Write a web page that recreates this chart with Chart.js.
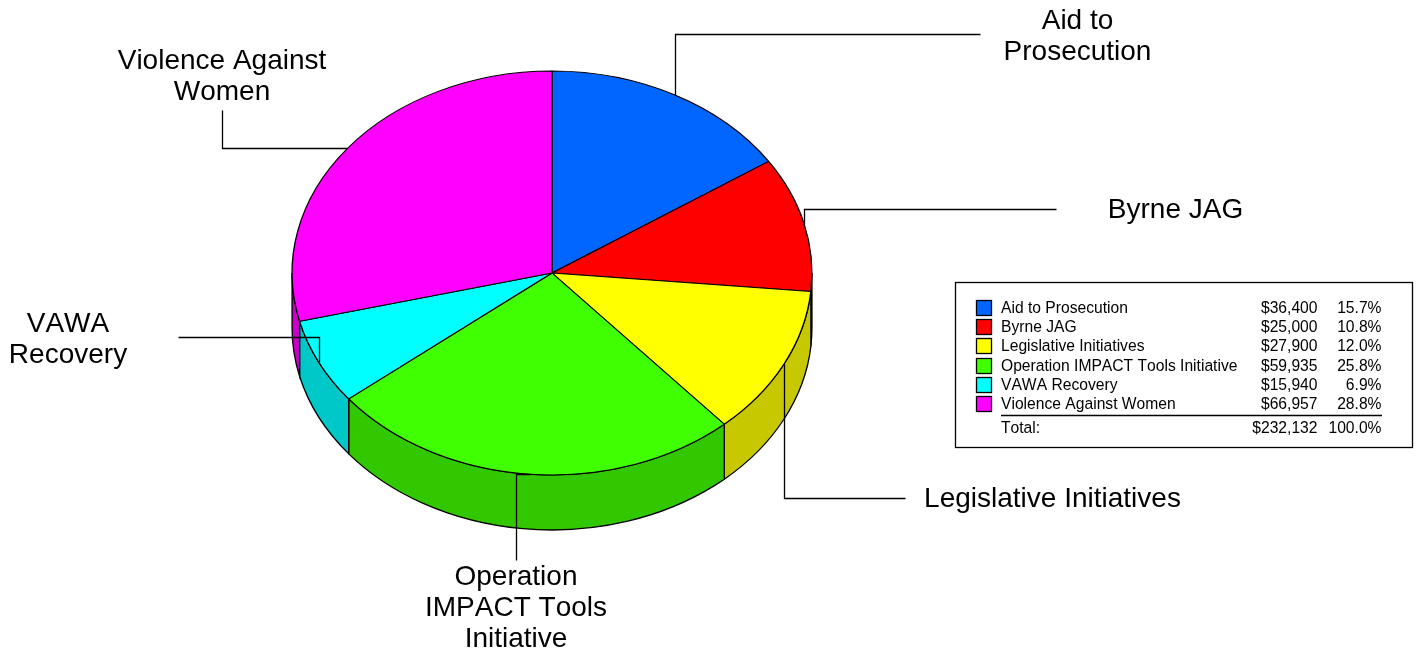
<!DOCTYPE html>
<html>
<head>
<meta charset="utf-8">
<title>Grant funding by program</title>
<script src="https://cdn.jsdelivr.net/npm/chart.js@4/dist/chart.umd.min.js"></script>
<style>
    body { margin: 0; background: #fff; }
    canvas { display: block; }
</style>
</head>
<body>
<canvas id="pieChart" width="1417" height="651"></canvas>
<script>
// Chart data
const categories = ['Aid to Prosecution', 'Byrne JAG', 'Legislative Initiatives', 'Operation IMPACT Tools Initiative', 'VAWA Recovery', 'Violence Against Women'];
const amounts = [36400, 25000, 27900, 59935, 15940, 66957];
const amountLabels = ['$36,400', '$25,000', '$27,900', '$59,935', '$15,940', '$66,957'];
const percentLabels = ['15.7%', '10.8%', '12.0%', '25.8%', '6.9%', '28.8%'];
const totalLabels = ['Total:', '$232,132', '100.0%'];

// Colours of the slices and of their rims
const topColors = ['#0066FF', '#FF0000', '#FFFF00', '#40FF00', '#00FFFF', '#FF00FF'];
const sideColors = ['#0050C8', '#C80000', '#C8C800', '#32C800', '#00C8C8', '#C800C8'];

// Tilt of the pie
const squash = 202 / 260;
const rimDepth = 55;
const strokeWidth = 1.3;

// Callout label lines, with where each one sits on the page
const calloutLines = [['Aid to', 'Prosecution'], ['Byrne JAG'], ['Legislative Initiatives'], ['Operation', 'IMPACT Tools', 'Initiative'], ['VAWA', 'Recovery'], ['Violence Against', 'Women']];
const calloutText = [[1077.5, 21], [1175.5, 210], [1052.5, 499], [516, 577], [68, 324], [222, 61]];
// Leader elbows, starting from the slice anchor
const calloutPaths = [
    a => [[a.x, 34], [980, 34]],
    a => [[a.x, 209], [1056, 209]],
    a => [[a.x, 498], [905, 498]],
    a => [[516, a.y], [516, 560]],
    a => [[a.x, 337], [178, 337]],
    a => [[222, a.y], [222, 110]]
];

const labelFont = '28px "Liberation Sans", Arial, sans-serif';
const legendFont = '15.65px "Liberation Sans", Arial, sans-serif';

function sliceGeometry(chart) {
    return chart.getDatasetMeta(0).data.map(arc => arc.getProps(['x', 'y', 'startAngle', 'endAngle', 'outerRadius']));
}

// Rim below the front half of the pie, then squash the drawing of the slices
const tiltPlugin = {
    id: 'tilt',
    beforeDatasetsDraw(chart) {
        const ctx = chart.ctx;
        ctx.save();
        sliceGeometry(chart).forEach((s, i) => {
            const rx = s.outerRadius, ry = s.outerRadius * squash;
            const from = Math.max(s.startAngle, 0);
            const to = Math.min(s.endAngle, Math.PI);
            if (to <= from) return;
            ctx.beginPath();
            ctx.ellipse(s.x, s.y, rx, ry, 0, from, to);
            ctx.lineTo(s.x + rx * Math.cos(to), s.y + ry * Math.sin(to) + rimDepth);
            ctx.ellipse(s.x, s.y + rimDepth, rx, ry, 0, to, from, true);
            ctx.closePath();
            ctx.fillStyle = sideColors[i];
            ctx.fill();
            ctx.strokeStyle = '#000';
            ctx.lineWidth = strokeWidth;
            ctx.stroke();
        });
        const first = sliceGeometry(chart)[0];
        ctx.translate(first.x, first.y);
        ctx.scale(1, squash);
        ctx.translate(-first.x, -first.y);
    },
    afterDatasetsDraw(chart) {
        chart.ctx.restore();
    }
};

// Leader lines and callout labels
const calloutPlugin = {
    id: 'callouts',
    afterDraw(chart) {
        const ctx = chart.ctx;
        ctx.save();
        ctx.strokeStyle = '#000';
        ctx.lineWidth = strokeWidth;
        sliceGeometry(chart).forEach((s, i) => {
            const mid = (s.startAngle + s.endAngle) / 2;
            const anchor = {
                x: s.x + s.outerRadius * Math.cos(mid),
                y: s.y + s.outerRadius * squash * Math.sin(mid)
            };
            ctx.beginPath();
            ctx.moveTo(Math.round(anchor.x) + 0.5, Math.round(anchor.y) + 0.5);
            calloutPaths[i]({ x: Math.round(anchor.x), y: Math.round(anchor.y) }).forEach(p => ctx.lineTo(p[0] + 0.5, p[1] + 0.5));
            ctx.stroke();
        });
        ctx.font = labelFont;
        ctx.fontKerning = 'none';
        ctx.fillStyle = '#000';
        ctx.textAlign = 'center';
        ctx.textBaseline = 'middle';
        calloutLines.forEach((lines, i) => {
            lines.forEach((line, n) => ctx.fillText(line, calloutText[i][0], calloutText[i][1] + n * 31));
        });
        ctx.restore();
    }
};

// Legend table on the right
const tablePlugin = {
    id: 'fundingTable',
    afterDraw(chart) {
        const ctx = chart.ctx;
        const rowY = [309, 328, 347, 367, 386, 405];
        ctx.save();
        ctx.strokeStyle = '#000';
        ctx.lineWidth = strokeWidth;
        ctx.strokeRect(955.5, 282.5, 457, 165);
        ctx.font = legendFont;
        ctx.fontKerning = 'none';
        ctx.textBaseline = 'middle';
        ctx.fillStyle = '#000';
        categories.forEach((name, i) => {
            ctx.fillStyle = topColors[i];
            ctx.fillRect(976.5, rowY[i] - 8.5, 15, 15);
            ctx.strokeRect(976.5, rowY[i] - 8.5, 15, 15);
            ctx.fillStyle = '#000';
            ctx.textAlign = 'left';
            ctx.fillText(name, 1001, rowY[i]);
            ctx.textAlign = 'right';
            ctx.fillText(amountLabels[i], 1317.5, rowY[i]);
            ctx.fillText(percentLabels[i], 1381.5, rowY[i]);
        });
        ctx.beginPath();
        ctx.moveTo(1001, 415.5);
        ctx.lineTo(1382, 415.5);
        ctx.stroke();
        ctx.textAlign = 'left';
        ctx.fillText(totalLabels[0], 1001, 429);
        ctx.textAlign = 'right';
        ctx.fillText(totalLabels[1], 1317.5, 429);
        ctx.fillText(totalLabels[2], 1381.5, 429);
        ctx.restore();
    }
};

document.addEventListener('DOMContentLoaded', function() {
    new Chart(document.getElementById('pieChart'), {
        type: 'pie',
        data: {
            labels: categories,
            datasets: [{
                data: amounts,
                backgroundColor: topColors,
                borderColor: '#000',
                borderWidth: strokeWidth
            }]
        },
        options: {
            responsive: false,
            animation: false,
            layout: { padding: { left: 291.4, right: 604.4, top: 12.4, bottom: 117.4 } },
            plugins: {
                legend: { display: false },
                tooltip: { enabled: false }
            }
        },
        plugins: [tiltPlugin, calloutPlugin, tablePlugin]
    });
});
</script>
</body>
</html>
